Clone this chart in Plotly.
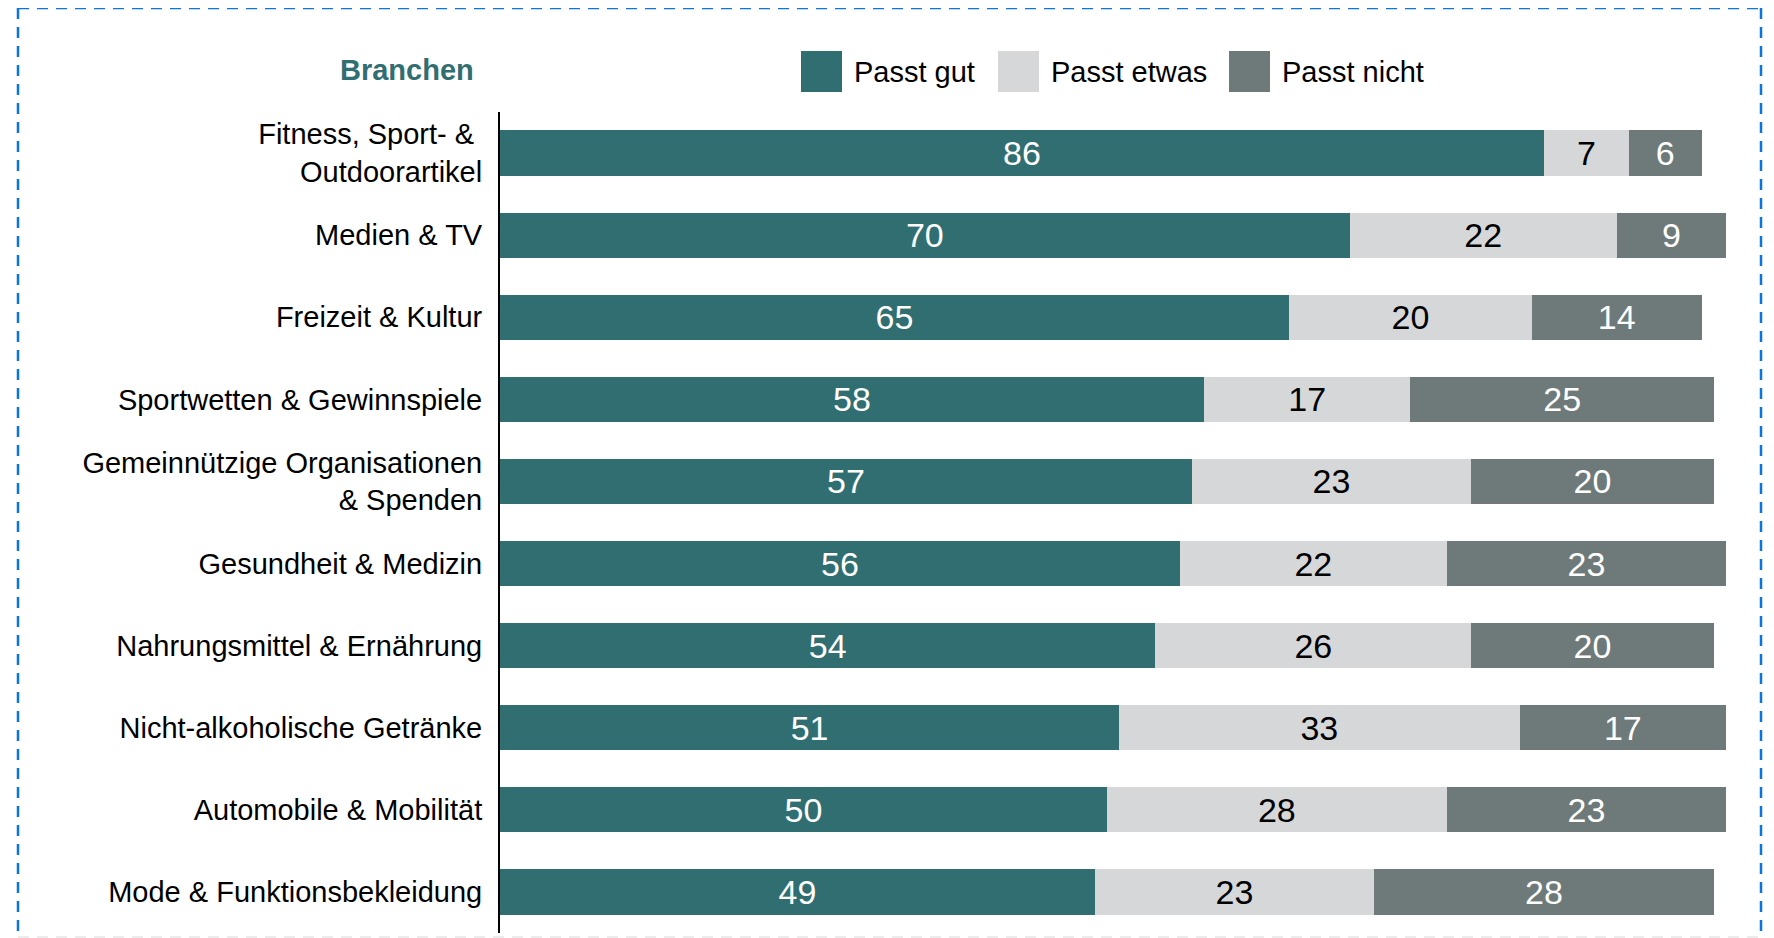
import plotly.graph_objects as go

# --- Daten ---
branchen = [
    "Fitness, Sport- &\u00a0<br>Outdoorartikel",
    "Medien & TV",
    "Freizeit & Kultur",
    "Sportwetten & Gewinnspiele",
    "Gemeinnützige Organisationen<br>& Spenden",
    "Gesundheit & Medizin",
    "Nahrungsmittel & Ernährung",
    "Nicht-alkoholische Getränke",
    "Automobile & Mobilität",
    "Mode & Funktionsbekleidung",
]
passt_gut = [86, 70, 65, 58, 57, 56, 54, 51, 50, 49]
passt_etwas = [7, 22, 20, 17, 23, 22, 26, 33, 28, 23]
passt_nicht = [6, 9, 14, 25, 20, 23, 20, 17, 23, 28]

serien = ["Passt gut", "Passt etwas", "Passt nicht"]
werte = [passt_gut, passt_etwas, passt_nicht]
farben = ["#306E72", "#D6D7D9", "#6E797A"]
textfarben = ["#FFFFFF", "#000000", "#FFFFFF"]

# --- Geometrie (Pixel im Fenster) ---
# die HTML-Seite hat 8px Rand (body margin), daher alles um 8px verschoben
OFF = 8
W, H = 1774 - OFF, 938 - OFF
L, T = 500 - OFF, 112 - OFF
PW, PH = 1226, 821
R, B = W - L - PW, H - T - PH
FONT = "Liberation Sans, Arial, Helvetica, sans-serif"


def px_x(x):
    return (x - OFF - L) / PW


def px_y(y):
    return (T + PH - (y - OFF)) / PH


fig = go.Figure()
for name, vals, col, tcol in zip(serien, werte, farben, textfarben):
    fig.add_trace(
        go.Bar(
            y=branchen,
            x=vals,
            name=name,
            orientation="h",
            marker=dict(color=col, line_width=0),
            text=vals,
            textposition="inside",
            insidetextanchor="middle",
            textangle=0,
            constraintext="none",
            textfont=dict(family=FONT, size=34, color=tcol),
            showlegend=False,
        )
    )

# gestrichelter Rahmen (oben, links, rechts blau; unten nur ganz blass)
rahmen = dict(color="#0A74E0", width=2.5, dash="11px,8px")
shapes = [
    dict(type="line", xref="paper", yref="paper",
         x0=px_x(18), x1=px_x(1761), y0=px_y(8), y1=px_y(8), line=rahmen),
    dict(type="line", xref="paper", yref="paper",
         x0=px_x(18), x1=px_x(18), y0=px_y(8), y1=px_y(940), line=rahmen),
    dict(type="line", xref="paper", yref="paper",
         x0=px_x(1761), x1=px_x(1761), y0=px_y(8), y1=px_y(940), line=rahmen),
    dict(type="line", xref="paper", yref="paper",
         x0=px_x(18), x1=px_x(1761), y0=px_y(937), y1=px_y(937),
         line=dict(color="#E6E6E6", width=1.5, dash="11px,8px")),
]
annotations = [
    dict(
        text="<b>Branchen</b>", xref="paper", yref="paper",
        x=px_x(476), y=px_y(70), xanchor="right", yanchor="middle",
        showarrow=False, font=dict(family=FONT, size=29, color="#306E72"),
    )
]

# eigene Legende mit großen Farbfeldern
legend_x = [801, 998, 1229]
for name, col, lx in zip(serien, farben, legend_x):
    shapes.append(
        dict(
            type="rect", xref="paper", yref="paper",
            x0=px_x(lx), x1=px_x(lx + 41), y0=px_y(92), y1=px_y(51),
            fillcolor=col, line_width=0,
        )
    )
    annotations.append(
        dict(
            text=name, xref="paper", yref="paper",
            x=px_x(lx + 51), y=px_y(72), xanchor="left", yanchor="middle",
            showarrow=False, font=dict(family=FONT, size=29, color="#000000"),
        )
    )

fig.update_layout(
    width=W,
    height=H,
    barmode="stack",
    bargap=0.45,
    paper_bgcolor="white",
    plot_bgcolor="white",
    margin=dict(l=L, r=R, t=T, b=B, pad=0),
    xaxis=dict(
        range=[0, 101], visible=False, fixedrange=True,
    ),
    yaxis=dict(
        autorange="reversed",
        showline=True, linecolor="#000000", linewidth=2,
        showgrid=False, ticks="", ticklabelstandoff=10,
        tickfont=dict(family=FONT, size=29, color="#000000"),
    ),
    uniformtext=dict(mode=False),
    shapes=shapes,
    annotations=annotations,
)

fig.write_html("out.html")
